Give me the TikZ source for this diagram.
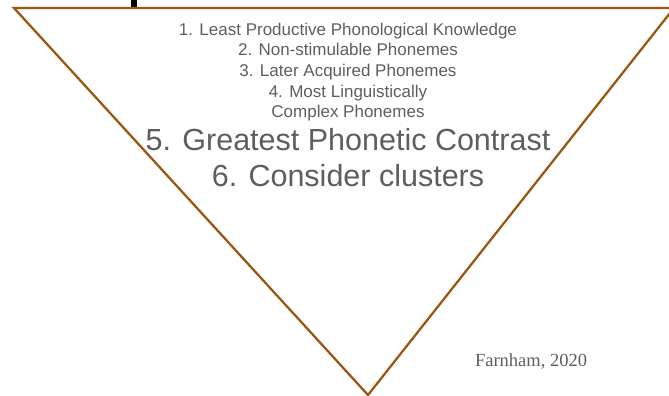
\documentclass[tikz,border=0pt]{standalone}
\usepackage{fontspec}
\setmainfont{Liberation Serif}
\setsansfont{Liberation Sans}
\definecolor{tri}{RGB}{153,88,20}
\definecolor{txt}{RGB}{94,94,94}
\begin{document}
\begin{tikzpicture}[x=1pt,y=-1pt,
  small/.style={font=\sffamily\fontsize{17}{20}\selectfont, text=txt, anchor=base, inner sep=0pt},
  big/.style={font=\sffamily\fontsize{30.5}{36}\selectfont, text=txt, anchor=base, inner sep=0pt},
  cite/.style={font=\rmfamily\fontsize{18.5}{22}\selectfont, text=txt, anchor=base, inner sep=0pt},
  edge/.style={draw=tri, line width=2.3pt, line join=miter}]
\useasboundingbox (0,0) rectangle (669,396);
\begin{scope}
\clip (0,0) rectangle (669,396);
\fill[black] (131,0) rectangle (137,7);
\coordinate (tl) at (14,8);
\coordinate (tr) at (674,8);
\coordinate (ap) at (368,395);
\draw[edge] (tl) -- (tr) -- (ap) -- cycle;
\end{scope}
\node[small] (l1) at (348,35.5) {1. Least Productive Phonological Knowledge};
\node[small] (l2) at (348,56) {2. Non-stimulable Phonemes};
\node[small] (l3) at (348,76.5) {3. Later Acquired Phonemes};
\node[small] (l4) at (348,97) {4. Most Linguistically};
\node[small] (l4b) at (348,117) {Complex Phonemes};
\node[big] (l5) at (348,150) {5. Greatest Phonetic Contrast};
\node[big] (l6) at (348,186.5) {6. Consider clusters};
\node[cite] (cite) at (531,366.5) {Farnham, 2020};
\end{tikzpicture}
\end{document}
